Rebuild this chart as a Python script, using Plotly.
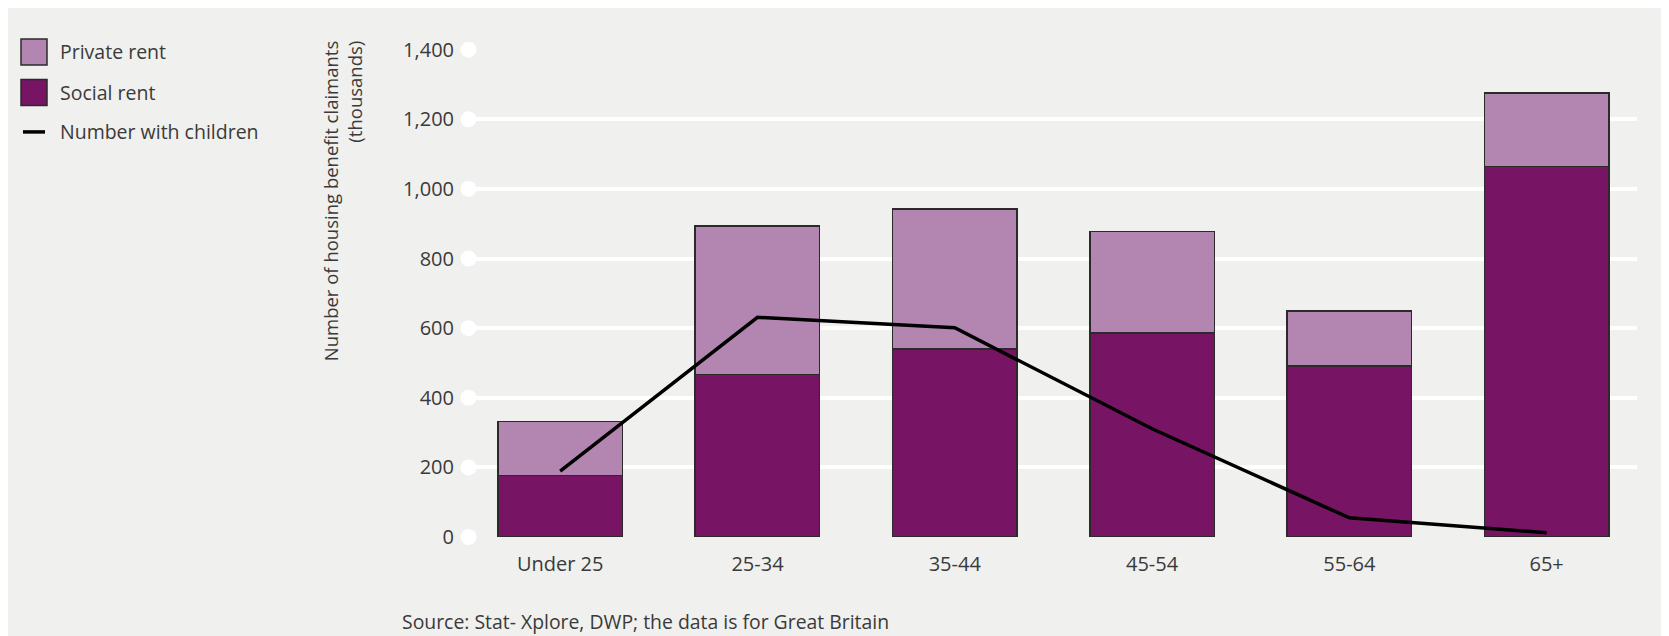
import plotly.graph_objects as go

categories = ["Under 25", "25-34", "35-44", "45-54", "55-64", "65+"]
social_rent = [177, 467, 540, 586, 491, 1064]
private_rent = [155, 427, 402, 292, 159, 211]
with_children = [189, 631, 601, 311, 55, 12]
y_ticks = [0, 200, 400, 600, 800, 1000, 1200, 1400]
y_tick_labels = ["0", "200", "400", "600", "800", "1,000", "1,200", "1,400"]

legend_names = ["Private rent", "Social rent", "Number with children"]

BG = "#f0f0ee"
FONT = "Open Sans"
TXT = "#3a3a3a"
SOCIAL = "#771464"
PRIVATE = "#b286b0"
EDGE = "#2a2a2a"

W, H = 1661, 628
ML, MR, MT, MB = 457, 32, 41, 98.5
PW = W - ML - MR
PH = H - MT - MB


def px_x(fx):
    return (fx - ML) / PW


def px_y(fy):
    return (H - MB - fy) / PH


fig = go.Figure()
fig.add_trace(go.Bar(
    x=categories, y=social_rent, name=legend_names[1],
    marker=dict(color=SOCIAL, line=dict(color=EDGE, width=1.5)),
    showlegend=False,
))
fig.add_trace(go.Bar(
    x=categories, y=private_rent, name=legend_names[0],
    marker=dict(color=PRIVATE, line=dict(color=EDGE, width=1.5)),
    showlegend=False,
))
fig.add_trace(go.Scatter(
    x=categories, y=with_children, name=legend_names[2],
    mode="lines", line=dict(color="#000000", width=3.5),
    showlegend=False,
))
# white dots at the start of each gridline
fig.add_trace(go.Scatter(
    x=[0.003] * len(y_ticks), y=y_ticks, xaxis="x2", mode="markers",
    marker=dict(color="white", size=16), showlegend=False,
    cliponaxis=False, hoverinfo="skip",
))

# custom legend (layout decoration)
leg_y = [44, 84.6, 124]
shapes = []
annotations = []
for i, col in enumerate([PRIVATE, SOCIAL]):
    shapes.append(dict(
        type="rect", xref="paper", yref="paper",
        x0=px_x(13), x1=px_x(39), y0=px_y(leg_y[i] + 13), y1=px_y(leg_y[i] - 13),
        fillcolor=col, line=dict(color=EDGE, width=1.5),
    ))
shapes.append(dict(
    type="line", xref="paper", yref="paper",
    x0=px_x(15), x1=px_x(37), y0=px_y(leg_y[2]), y1=px_y(leg_y[2]),
    line=dict(color="#000000", width=3.5),
))
for i, name in enumerate(legend_names):
    annotations.append(dict(
        text=name, xref="paper", yref="paper", x=px_x(50), y=px_y(leg_y[i]),
        xanchor="left", yanchor="middle", showarrow=False,
        font=dict(size=19.5, color=TXT),
    ))

annotations.append(dict(
    text="Number of housing benefit claimants<br>(thousands)",
    textangle=-90, xref="paper", yref="paper",
    x=px_x(334), y=1.021, xanchor="center", yanchor="top",
    showarrow=False, align="right",
    font=dict(size=18.5, color=TXT),
))
annotations.append(dict(
    text="Source: Stat- Xplore, DWP; the data is for Great Britain",
    xref="paper", yref="paper", x=px_x(392), y=px_y(613.6),
    xanchor="left", yanchor="middle", showarrow=False,
    font=dict(size=19.4, color=TXT),
))

fig.update_layout(
    width=W, height=H,
    paper_bgcolor=BG, plot_bgcolor=BG,
    barmode="stack", bargap=0.369,
    margin=dict(l=ML, r=MR, t=MT, b=MB),
    font=dict(family=FONT, size=18, color=TXT),
    xaxis=dict(
        type="category", range=[-0.4825, 5.458], showgrid=False, zeroline=False,
        showline=False, ticks="", tickfont=dict(size=20, color=TXT),
        ticklabelstandoff=13,
    ),
    xaxis2=dict(overlaying="x", range=[0, 1], visible=False),
    yaxis=dict(
        range=[0, 1402], tickvals=y_ticks, ticktext=y_tick_labels,
        showgrid=True, gridcolor="white", gridwidth=4, zeroline=False,
        showline=False, ticks="", tickfont=dict(size=20, color=TXT),
        ticklabelstandoff=10,
    ),
    showlegend=False,
    shapes=shapes,
    annotations=annotations,
)

fig.write_html("out.html")
